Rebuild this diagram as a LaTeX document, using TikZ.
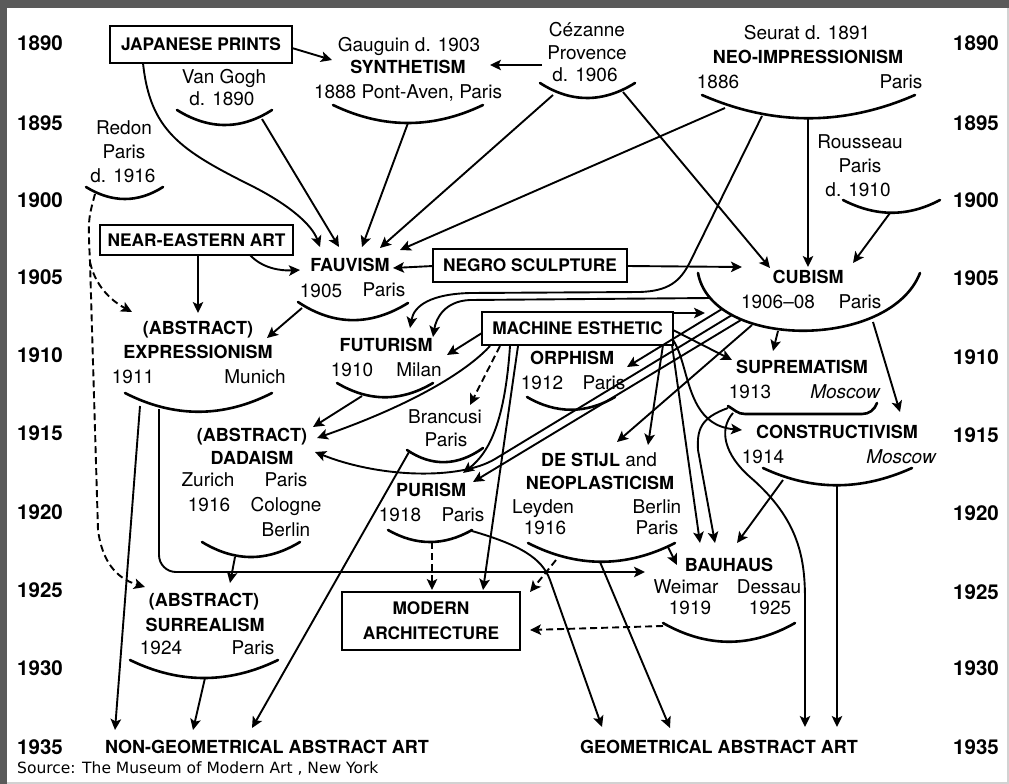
\documentclass[tikz,border=0pt]{standalone}
\usepackage{fontspec}
\setmainfont{TeX Gyre Heros}
\newfontfamily\srcfont{DejaVu Sans}
\usetikzlibrary{arrows.meta}
\definecolor{framegray}{HTML}{5A5A5A}
\begin{document}
\begin{tikzpicture}[x=1pt,y=-1pt,
  txt/.style={inner sep=0pt, anchor=base, yshift=-6.5pt},
  B/.style={txt, font=\fontsize{18}{22}\selectfont\bfseries},
  R/.style={txt, font=\fontsize{19}{22}\selectfont},
  RI/.style={txt, font=\fontsize{19}{22}\selectfont\itshape},
  yr/.style={inner sep=0pt, anchor=base, yshift=-7.4pt, font=\fontsize{20.5}{22}\selectfont\bfseries},
  box/.style={draw, line width=2.6pt, inner sep=0pt, font=\fontsize{17.3}{25}\selectfont\bfseries, align=center},
  arcl/.style={line width=2.6pt, line cap=round},
  con/.style={line width=1.9pt},
  arr/.style={con, -{Stealth[length=11pt,width=10.5pt,inset=2.5pt]}},
  darr/.style={arr, dash pattern=on 7pt off 4pt},
]
\useasboundingbox (0,0) rectangle (1009,784);
% frame
\fill[framegray] (0,0) rectangle (1009,784);
\fill[white] (7,8) rectangle (1007,782);
\fill[gray!35] (7,782) rectangle (1009,784);
\fill[gray!35] (1007,8) rectangle (1009,784);

% years
\foreach \yy/\pp in {1890/43,1895/123,1900/200,1905/277,1910/355,1915/433,1920/512,1925/590,1930/668,1935/747}
  {\node[yr] (yl\yy) at (40,\pp) {\yy};}
\foreach \yy/\pp in {1890/43,1895/123,1900/200,1905/278,1910/357,1915/435,1920/513,1925/592,1930/668,1935/747}
  {\node[yr] (yr\yy) at (976,\pp) {\yy};}

% boxes
\node[box, minimum width=182pt, minimum height=37pt] (jp) at (201,44.5) {JAPANESE PRINTS};
\node[box, minimum width=193pt, minimum height=30pt] (ne) at (196.5,240) {NEAR-EASTERN ART};
\node[box, minimum width=194pt, minimum height=33pt] (ns) at (530,265.5) {NEGRO SCULPTURE};
\node[box, minimum width=191pt, minimum height=33pt] (me) at (577.5,328.5) {MACHINE ESTHETIC};
\node[box, minimum width=178pt, minimum height=58pt] (ma) at (431,621) {MODERN\\ARCHITECTURE};

% texts
\node[R] (gau) at (409,45) {Gauguin d. 1903};
\node[B] (syn) at (408,67) {SYNTHETISM};
\node[R] (pav) at (408,92) {1888 Pont-Aven, Paris};
\node[R] (cez1) at (587,30) {Cézanne};
\node[R] (cez2) at (587,53) {Provence};
\node[R] (cez3) at (585,75) {d. 1906};
\node[R] (seu) at (807,33) {Seurat d. 1891};
\node[B] (neo) at (808,57) {NEO-IMPRESSIONISM};
\node[R] (neo1) at (718,82) {1886};
\node[R] (neo2) at (901,82) {Paris};
\node[R] (vg1) at (224,77) {Van Gogh};
\node[R] (vg2) at (222,99) {d. 1890};
\node[R] (re1) at (124,128) {Redon};
\node[R] (re2) at (124,152) {Paris};
\node[R] (re3) at (123,176) {d. 1916};
\node[R] (ro1) at (860,142) {Rousseau};
\node[R] (ro2) at (860,166) {Paris};
\node[R] (ro3) at (858,190) {d. 1910};
\node[B] (fau) at (350,265) {FAUVISM};
\node[R] (fau1) at (321,291) {1905};
\node[R] (fau2) at (384,290) {Paris};
\node[B] (ex0) at (198,328) {(ABSTRACT)};
\node[B] (ex) at (198,352) {EXPRESSIONISM};
\node[R] (ex1) at (133,377) {1911};
\node[R] (ex2) at (255,377) {Munich};
\node[B] (fut) at (386,345) {FUTURISM};
\node[R] (fut1) at (352,370) {1910};
\node[R] (fut2) at (419,370) {Milan};
\node[B] (orp) at (572,358) {ORPHISM};
\node[R] (orp1) at (542,383) {1912};
\node[R] (orp2) at (604,383) {Paris};
\node[B] (cub) at (808,277) {CUBISM};
\node[R] (cub1) at (778,302) {1906--08};
\node[R] (cub2) at (860,302) {Paris};
\node[B] (sup) at (802,367) {SUPREMATISM};
\node[R] (sup1) at (750,392) {1913};
\node[RI] (sup2) at (845,392) {Moscow};
\node[B] (con) at (837,432) {CONSTRUCTIVISM};
\node[R] (con1) at (763,457) {1914};
\node[RI] (con2) at (901,457) {Moscow};
\node[R] (br1) at (445,417) {Brancusi};
\node[R] (br2) at (446,440) {Paris};
\node[B] (da0) at (252,435) {(ABSTRACT)};
\node[B] (da) at (252,458) {DADAISM};
\node[R] (da1) at (208,480) {Zurich};
\node[R] (da2) at (286,480) {Paris};
\node[R] (da3) at (209,505) {1916};
\node[R] (da4) at (286,505) {Cologne};
\node[R] (da5) at (286,530) {Berlin};
\node[B] (pur) at (431,490) {PURISM};
\node[R] (pur1) at (400,515) {1918};
\node[R] (pur2) at (463,515) {Paris};
\node[R] (ds0) at (599,460) {{\fontsize{18}{22}\selectfont\bfseries DE STIJL} and};
\node[B] (ds) at (600,483) {NEOPLASTICISM};
\node[R] (ds1) at (543,507) {Leyden};
\node[R] (ds2) at (657,507) {Berlin};
\node[R] (ds3) at (545,528) {1916};
\node[R] (ds4) at (657,528) {Paris};
\node[B] (bau) at (729,565) {BAUHAUS};
\node[R] (bau1) at (686,587) {Weimar};
\node[R] (bau2) at (769,587) {Dessau};
\node[R] (bau3) at (690,608) {1919};
\node[R] (bau4) at (770,608) {1925};
\node[B] (su0) at (204,600) {(ABSTRACT)};
\node[B] (su) at (205,625) {SURREALISM};
\node[R] (su1) at (161,648) {1924};
\node[R] (su2) at (253,648) {Paris};
\node[B] (ngeo) at (267,747) {NON-GEOMETRICAL ABSTRACT ART};
\node[B] (geo) at (719,747) {GEOMETRICAL ABSTRACT ART};
\node[inner sep=0pt, anchor=base west, font=\srcfont\fontsize{15.5}{18}\selectfont] (src) at (17,773) {Source: The Museum of Modern Art , New York};

% arcs (smiles under movements)
\draw[arcl] (177,110) .. controls (209,130) and (241,130) .. (272,110);
\draw[arcl] (86,187) .. controls (112,203) and (138,203) .. (163,187);
\draw[arcl] (333,105) .. controls (383,129) and (433,129) .. (483,105);
\draw[arcl] (540,83) .. controls (571,103) and (603,103) .. (635,83);
\draw[arcl] (702,95) .. controls (773,126) and (844,126) .. (915,95);
\draw[arcl] (843,200) .. controls (876,217) and (908,217) .. (940,200);
\draw[arcl] (298,302) .. controls (334,326) and (371,326) .. (408,303);
\draw[arcl] (698,273) .. controls (712,350) and (890,350) .. (920,273);
\draw[arcl] (125,393) .. controls (174,418) and (223,418) .. (272,393);
\draw[arcl] (337,383) .. controls (369,402) and (401,402) .. (433,383);
\draw[arcl] (527,397) .. controls (556,414) and (586,414) .. (615,397);
\draw[arcl] (728,406) to[out=-30,in=180] (745,414) -- (862,414) to[out=0,in=-110] (877,403);
\draw[arcl] (763,468) .. controls (812,491) and (861,491) .. (912,468);
\draw[arcl] (407,450) .. controls (432,467) and (458,466) .. (483,448);
\draw[arcl] (202,542) .. controls (235,562) and (267,562) .. (300,542);
\draw[arcl] (388,530) .. controls (416,546) and (444,546) .. (472,530);
\draw[arcl] (528,543) .. controls (577,568) and (626,568) .. (675,543);
\draw[arcl] (663,623) .. controls (707,648) and (751,648) .. (795,623);
\draw[arcl] (130,660) .. controls (179,684) and (229,684) .. (278,660);

% connector end points
\coordinate (jpR) at (292,48);   \coordinate (synL) at (332,60);
\coordinate (jpB) at (143,63);   \coordinate (fvA) at (320,247);
\coordinate (vgO) at (262,119);  \coordinate (fvB) at (339,247);
\coordinate (synO) at (408,123); \coordinate (fvC) at (362,247);
\coordinate (czL) at (542,65);   \coordinate (synR) at (490,65);
\coordinate (czO1) at (553,95);  \coordinate (fvD) at (380,248);
\coordinate (czO2) at (623,92);  \coordinate (cbA) at (770,268);
\coordinate (neO1) at (725,108); \coordinate (fvE) at (400,250);
\coordinate (neO2) at (808,118); \coordinate (cbB) at (808,267);
\coordinate (neO3) at (762,116); \coordinate (ftA) at (410,328);
\coordinate (roO) at (890,213);  \coordinate (cbC) at (853,263);
\coordinate (reO) at (95,194);   \coordinate (reJ) at (90,262);
\coordinate (exA) at (132,312);  \coordinate (suA) at (145,587);
\coordinate (neB) at (198,255);  \coordinate (exB) at (198,313);
\coordinate (neB2) at (250,255); \coordinate (fvF) at (300,270);
\coordinate (nsL) at (433,266);  \coordinate (fvG) at (393,268);
\coordinate (nsR) at (627,266);  \coordinate (cbD) at (742,267);
\coordinate (fvO) at (302,308);  \coordinate (exC) at (267,338);
\coordinate (cbO1) at (711,298); \coordinate (ftB) at (433,337);
\coordinate (meL) at (482,333);  \coordinate (ftC) at (447,355);
\coordinate (meTR) at (673,313); \coordinate (cbE) at (705,313);
\coordinate (meB1) at (500,346); \coordinate (brA) at (470,405);
\coordinate (meB2) at (510,346); \coordinate (puA) at (463,473);
\coordinate (meB3) at (518,346); \coordinate (maA) at (483,590);
\coordinate (meB0) at (490,346); \coordinate (daA) at (317,438);
\coordinate (meR1) at (673,330); \coordinate (spA) at (732,360);
\coordinate (meR2) at (673,340); \coordinate (csA) at (742,430);
\coordinate (meB4) at (663,345); \coordinate (dsA) at (648,445);
\coordinate (meB5) at (672,345); \coordinate (bhA) at (700,543);
\coordinate (cbO2) at (722,309); \coordinate (orA) at (627,367);
\coordinate (cbO3) at (732,315); \coordinate (daB) at (315,452);
\coordinate (cbO4) at (741,320); \coordinate (puB) at (473,482);
\coordinate (cbO5) at (752,325); \coordinate (dsB) at (617,442);
\coordinate (cbO6) at (778,331); \coordinate (spB) at (773,351);
\coordinate (cbO7) at (873,322); \coordinate (csB) at (900,412);
\coordinate (ftO) at (362,396);  \coordinate (daC) at (313,427);
\coordinate (brO) at (409,452);  \coordinate (ngC) at (252,728);
\coordinate (exO1) at (140,406); \coordinate (ngA) at (115,730);
\coordinate (exO2) at (159,409); \coordinate (bhB) at (645,572);
\coordinate (daO) at (235,557);  \coordinate (suB) at (230,583);
\coordinate (suO) at (205,678);  \coordinate (ngB) at (193,730);
\coordinate (puO1) at (432,542); \coordinate (maB) at (432,590);
\coordinate (puO2) at (472,531); \coordinate (geA) at (602,727);
\coordinate (dsO1) at (556,560); \coordinate (maC) at (530,592);
\coordinate (dsO2) at (600,562); \coordinate (geB) at (670,728);
\coordinate (dsO3) at (668,547); \coordinate (bhC) at (677,565);
\coordinate (bhO) at (663,626);  \coordinate (maD) at (530,630);
\coordinate (spO1) at (728,408); \coordinate (bhD) at (715,543);
\coordinate (spO2) at (733,413); \coordinate (geC) at (805,727);
\coordinate (csO1) at (783,480); \coordinate (bhE) at (737,543);
\coordinate (csO2) at (837,485); \coordinate (geD) at (837,727);

% connectors
\draw[arr] (jpR) -- (synL);
\draw[arr] (jpB) .. controls (150,130) and (180,150) .. (250,185) .. controls (290,205) and (312,225) .. (fvA);
\draw[arr] (vgO) -- (fvB);
\draw[arr] (synO) -- (fvC);
\draw[arr] (czL) -- (synR);
\draw[arr] (czO1) -- (fvD);
\draw[arr] (czO2) -- (cbA);
\draw[arr] (neO1) -- (fvE);
\draw[arr] (neO2) -- (cbB);
\draw[arr] (neO3) -- (690,262) .. controls (680,282) and (668,291) .. (640,292) -- (470,293) .. controls (432,294) and (414,305) .. (ftA);
\draw[arr] (roO) -- (cbC);
\draw[darr] (reO) .. controls (88,220) .. (reJ) -- (98,530) .. controls (102,560) and (115,578) .. (suA);
\draw[darr] (reJ) .. controls (95,285) and (110,300) .. (exA);
\draw[arr] (neB) -- (exB);
\draw[arr] (neB2) .. controls (262,268) and (280,271) .. (fvF);
\draw[arr] (nsL) -- (fvG);
\draw[arr] (nsR) -- (cbD);
\draw[arr] (fvO) -- (exC);
\draw[arr] (cbO1) -- (470,300) .. controls (445,301) and (436,318) .. (ftB);
\draw[arr] (meL) -- (ftC);
\draw[arr] (meTR) -- (cbE);
\draw[darr] (meB1) -- (brA);
\draw[arr] (meB2) .. controls (505,420) and (490,452) .. (puA);
\draw[arr] (meB3) -- (maA);
\draw[arr] (meB0) .. controls (470,368) and (420,402) .. (daA);
\draw[arr] (meR1) -- (spA);
\draw[arr] (meR2) .. controls (690,365) and (685,425) .. (csA);
\draw[arr] (meB4) -- (dsA);
\draw[arr] (meB5) -- (bhA);
\draw[arr] (cbO2) -- (orA);
\draw[arr] (cbO3) -- (495,459) .. controls (460,480) and (380,478) .. (daB);
\draw[arr] (cbO4) -- (puB);
\draw[arr] (cbO5) -- (dsB);
\draw[arr] (cbO6) -- (spB);
\draw[arr] (cbO7) -- (csB);
\draw[arr] (ftO) -- (daC);
\draw[arr] (brO) -- (ngC);
\draw[arr] (exO1) -- (ngA);
\draw[arr, rounded corners=17pt] (exO2) -- (159,572) -- (bhB);
\draw[arr] (daO) -- (suB);
\draw[arr] (suO) -- (ngB);
\draw[darr] (puO1) -- (maB);
\draw[arr] (puO2) .. controls (520,545) and (542,558) .. (550,580) -- (geA);
\draw[darr] (dsO1) -- (maC);
\draw[arr] (dsO2) -- (geB);
\draw[arr] (dsO3) -- (bhC);
\draw[darr] (bhO) -- (maD);
\draw[arr] (spO1) .. controls (700,418) and (697,430) .. (698,450) -- (bhD);
\draw[arr] (spO2) .. controls (718,430) and (725,455) .. (750,477) .. controls (800,520) and (805,560) .. (805,600) -- (geC);
\draw[arr] (csO1) -- (bhE);
\draw[arr] (csO2) -- (geD);
\end{tikzpicture}
\end{document}
